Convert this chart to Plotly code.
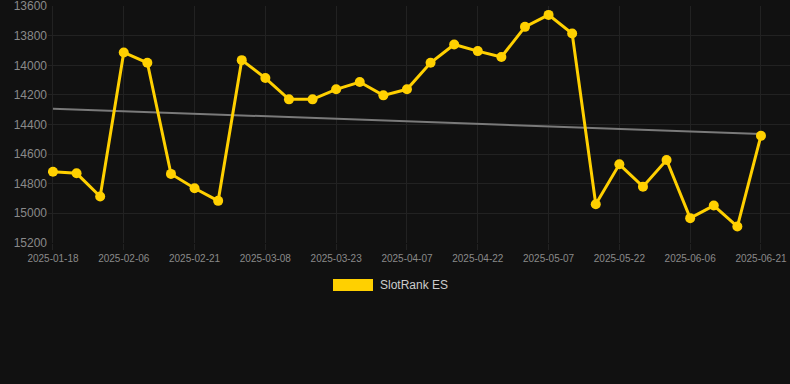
import plotly.graph_objects as go

dates = [
    "2025-01-18", "2025-01-24", "2025-01-30", "2025-02-06", "2025-02-11", "2025-02-16",
    "2025-02-21", "2025-02-26", "2025-03-03", "2025-03-08", "2025-03-13", "2025-03-18",
    "2025-03-23", "2025-03-28", "2025-04-02", "2025-04-07", "2025-04-12", "2025-04-17",
    "2025-04-22", "2025-04-27", "2025-05-02", "2025-05-07", "2025-05-12", "2025-05-17",
    "2025-05-22", "2025-05-27", "2025-06-01", "2025-06-06", "2025-06-11", "2025-06-16",
    "2025-06-21",
]
rank = [
    14719, 14730, 14887, 13913, 13983, 14734,
    14831, 14916, 13965, 14086, 14230, 14230,
    14162, 14113, 14203, 14162, 13983, 13859,
    13904, 13944, 13740, 13659, 13785, 14939,
    14669, 14820, 14640, 15033, 14948, 15090,
    14476,
]
trend_dates = ["2025-01-18", "2025-06-21"]
trend_values = [14293, 14464]
tick_labels = dates[::3]
y_ticks = [13600, 13800, 14000, 14200, 14400, 14600, 14800, 15000, 15200]
series_name = "SlotRank ES"

YELLOW = "#FFD000"
BG = "#111111"
GRID = "#222222"

PLOT_L, PLOT_R, PLOT_T, PLOT_B = 48, 790, 6, 243
PW, PH = PLOT_R - PLOT_L, PLOT_B - PLOT_T


def px_x(x):
    return (x - PLOT_L) / PW


def px_y(y):
    return (PLOT_B - y) / PH


fig = go.Figure()
fig.add_trace(go.Scatter(
    x=trend_dates, y=trend_values, mode="lines",
    line=dict(color="#7a7a7a", width=2), showlegend=False, hoverinfo="skip",
))
fig.add_trace(go.Scatter(
    x=dates, y=rank, mode="lines+markers", name=series_name,
    line=dict(color=YELLOW, width=3),
    marker=dict(color=YELLOW, size=10),
    showlegend=False,
))

fig.update_layout(
    width=790, height=384,
    paper_bgcolor=BG, plot_bgcolor=BG,
    margin=dict(l=PLOT_L, r=790 - PLOT_R, t=PLOT_T, b=384 - PLOT_B),
    font=dict(family="Liberation Sans, Arial, sans-serif", color="#8a8a8a"),
    showlegend=False,
    xaxis=dict(
        type="category", categoryorder="array", categoryarray=dates,
        range=[-0.21, 31.23],
        tickmode="array", tickvals=tick_labels, ticktext=tick_labels,
        tickfont=dict(size=10, color="#8a8a8a"),
        showgrid=True, gridcolor=GRID, gridwidth=1,
        ticks="outside", ticklen=6, tickcolor=GRID,
        showline=False, zeroline=False, ticklabeloverflow="allow",
    ),
    yaxis=dict(
        range=[15201, 13599],
        tickmode="array", tickvals=y_ticks, ticktext=[str(v) for v in y_ticks],
        tickfont=dict(size=12, color="#8a8a8a"),
        showgrid=True, gridcolor=GRID, gridwidth=1,
        showline=False, zeroline=False, ticks="",
        ticklabeloverflow="allow",
    ),
    shapes=[dict(
        type="rect", xref="paper", yref="paper",
        x0=px_x(333), x1=px_x(373),
        y0=px_y(291), y1=px_y(279),
        fillcolor=YELLOW, line=dict(width=0),
    )],
    annotations=[dict(
        xref="paper", yref="paper",
        x=px_x(378), y=px_y(285),
        xanchor="left", yanchor="middle", showarrow=False,
        text=series_name, font=dict(size=12, color="#cccccc"),
    )],
)

fig.write_html(
    "out.html",
    config={"displayModeBar": False},
    post_script="document.body.style.margin='0';document.body.style.background='#111111';",
)
